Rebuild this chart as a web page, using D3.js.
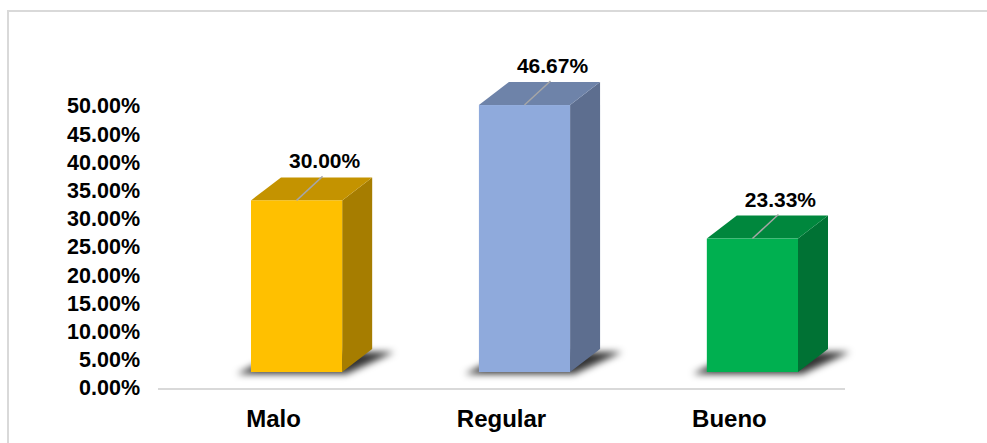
<!DOCTYPE html>
<html>
<head>
<meta charset="utf-8">
<script src="https://cdn.jsdelivr.net/npm/d3@7"></script>
<style>
  body { margin: 0; background: #fff; }
  svg { display: block; font-family: "Liberation Sans", Arial, sans-serif; }
</style>
</head>
<body>
<svg id="chart"></svg>
<script>
const categories = ["Malo", "Regular", "Bueno"];
const values = [0.30, 0.4667, 0.2333];
const tickValues = [0, 0.05, 0.10, 0.15, 0.20, 0.25, 0.30, 0.35, 0.40, 0.45, 0.50];
const colors = [
    {front: "#FFC000", top: "#C49300", side: "#A67D00"},
    {front: "#8FAADC", top: "#6E83A9", side: "#5D6E8F"},
    {front: "#00B050", top: "#00873D", side: "#007234"}
];

const width = 987, height = 443;
const depth = {dx: 30, dy: -23}; // 3d offset of the back face

const svg = d3.select("#chart")
    .attr("width", width)
    .attr("height", height);

// blur for the floor shadows
const defs = svg.append("defs");
defs.append("filter")
    .attr("id", "shadow-blur")
    .attr("x", "-30%").attr("y", "-100%")
    .attr("width", "160%").attr("height", "300%")
    .append("feGaussianBlur")
    .attr("stdDeviation", 3.5);

// chart frame
svg.append("rect")
    .attr("x", 8).attr("y", 11)
    .attr("width", 986).attr("height", 440)
    .attr("fill", "none")
    .attr("stroke", "#d9d9d9")
    .attr("stroke-width", 2);

// scales
const xScale = d3.scaleBand(categories, [251, 798]).paddingInner(0.6).paddingOuter(0);
const yAxisScale = d3.scaleLinear([0, 0.5], [388, 106]);
const yBar = d3.scaleLinear([0, 0.5], [372, 86]);

// Y axis (labels only)
const yAxis = d3.axisLeft(yAxisScale)
    .tickValues(tickValues)
    .tickFormat(d3.format(".2%"))
    .tickSize(0)
    .tickPadding(0);

svg.append("g")
    .attr("transform", "translate(140,0)")
    .call(yAxis)
    .call(g => g.select(".domain").remove())
    .call(g => g.selectAll("text")
        .attr("font-size", 21.5)
        .attr("font-weight", "bold")
        .attr("fill", "#000")
        .attr("font-family", "Liberation Sans, Arial, sans-serif"));

// floor line
svg.append("line")
    .attr("x1", 158).attr("x2", 845)
    .attr("y1", 389).attr("y2", 389)
    .attr("stroke", "#d9d9d9")
    .attr("stroke-width", 2);

// X axis (category labels)
const xAxis = d3.axisBottom(xScale).tickSize(0).tickPadding(0);
svg.append("g")
    .attr("transform", "translate(-23,427)")
    .call(xAxis)
    .call(g => g.select(".domain").remove())
    .call(g => g.selectAll("text")
        .attr("dy", 0)
        .attr("font-size", 24)
        .attr("font-weight", "bold")
        .attr("fill", "#000")
        .attr("font-family", "Liberation Sans, Arial, sans-serif"));

const data = categories.map((c, i) => ({cat: c, value: values[i], color: colors[i]}));

const bars = svg.append("g")
    .selectAll("g")
    .data(data)
    .join("g");

const x0 = d => xScale(d.cat);
const x1 = d => xScale(d.cat) + xScale.bandwidth();
const yb = yBar(0);

// shadow on the floor
bars.append("path")
    .attr("fill", "#000")
    .attr("fill-opacity", 0.8)
    .attr("filter", "url(#shadow-blur)")
    .attr("d", d => `M${x0(d) - 14},${yb + 2} L${x1(d) + 4},${yb + 2} L${x1(d) + depth.dx + 22},${yb + depth.dy + 3} L${x0(d) + depth.dx},${yb + depth.dy + 3} Z`);

// side face
bars.append("path")
    .attr("fill", d => d.color.side)
    .attr("d", d => {
        const yt = yBar(d.value);
        return `M${x1(d)},${yt} L${x1(d) + depth.dx},${yt + depth.dy} L${x1(d) + depth.dx},${yb + depth.dy} L${x1(d)},${yb} Z`;
    });

// top face
bars.append("path")
    .attr("fill", d => d.color.top)
    .attr("d", d => {
        const yt = yBar(d.value);
        return `M${x0(d)},${yt} L${x0(d) + depth.dx},${yt + depth.dy} L${x1(d) + depth.dx},${yt + depth.dy} L${x1(d)},${yt} Z`;
    });

// front face
bars.append("rect")
    .attr("x", d => x0(d))
    .attr("y", d => yBar(d.value))
    .attr("width", xScale.bandwidth())
    .attr("height", d => yb - yBar(d.value))
    .attr("fill", d => d.color.front);

// leader lines
const cx = d => xScale(d.cat) + xScale.bandwidth() / 2;
bars.append("line")
    .attr("x1", d => cx(d))
    .attr("y1", d => yBar(d.value))
    .attr("x2", d => cx(d) + 26)
    .attr("y2", d => yBar(d.value) - 24)
    .attr("stroke", "#a6a6a6")
    .attr("stroke-width", 1.5);

// value labels
bars.append("text")
    .attr("x", d => cx(d) + 28)
    .attr("y", d => yBar(d.value) - 32)
    .attr("text-anchor", "middle")
    .attr("font-size", 21)
    .attr("font-weight", "bold")
    .attr("fill", "#000")
    .text(d => d3.format(".2%")(d.value));
</script>
</body>
</html>
